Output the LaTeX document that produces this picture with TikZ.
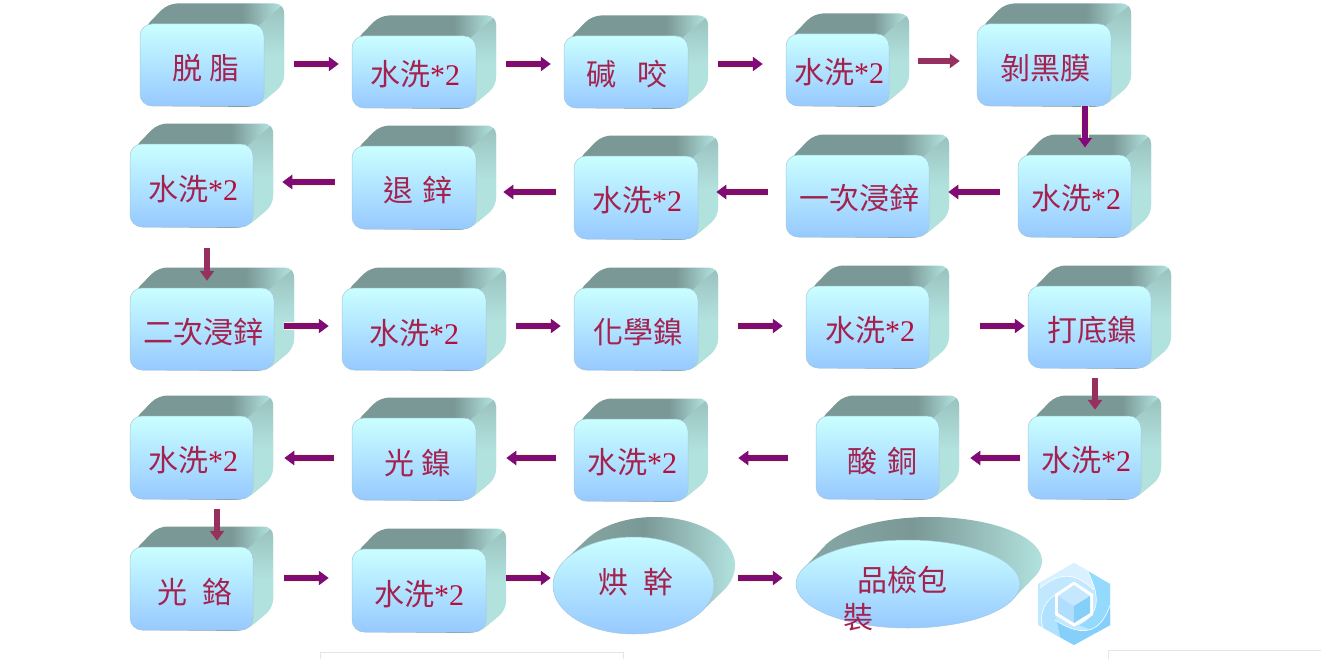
\documentclass[tikz,border=0pt]{standalone}
\usepackage{fontspec}
\setmainfont{Liberation Serif}
\newfontfamily\cjk{Noto Sans CJK TC}
\usetikzlibrary{arrows.meta,shapes.geometric}

\definecolor{sidedark}{HTML}{7A9896}
\definecolor{sidelight}{HTML}{B2E2DE}
\definecolor{frontup}{HTML}{CAFFFF}
\definecolor{frontdown}{HTML}{97C9FF}
\definecolor{frontedge}{HTML}{A5C8DC}
\definecolor{labelred}{HTML}{A5224F}
\definecolor{digitred}{HTML}{B5103C}
\definecolor{flowpurple}{HTML}{7F0A78}
\definecolor{flowmaroon}{HTML}{96305F}
\definecolor{flowglow}{HTML}{FFFBC0}

% Left to right shadings of the block sides; a path's box spans 25bp to 75bp.
\pgfdeclarehorizontalshading{boxside}{100bp}{color(0bp)=(sidedark); color(60bp)=(sidedark); color(74bp)=(sidelight); color(100bp)=(sidelight)}
\pgfdeclarehorizontalshading{discside}{100bp}{color(0bp)=(sidedark!70!sidelight); color(32bp)=(sidedark!85!sidelight); color(48bp)=(sidedark); color(75bp)=(sidelight); color(100bp)=(sidelight)}

\tikzset{
  front/.style={draw=frontedge, line width=.5pt, top color=frontup, bottom color=frontdown, inner sep=0pt},
  blockface/.style={front, rectangle, rounded corners=12pt},
  discface/.style={front, ellipse},
  steptext/.style={text=labelred, font=\fontsize{30}{32}\selectfont, inner sep=0pt},
  flow/.style={draw=flowpurple, line width=6.5pt, -{Triangle[width=14pt,length=10pt]},
    preaction={draw=flowglow, line width=8.5pt}},
  flowplain/.style={draw=flowmaroon, line width=6pt, -{Triangle[width=14pt,length=10pt]}},
}

% name, front left, top, right, bottom, text x, text y, text
\newcommand{\procbox}[8]{%
  \begin{scope}
    \path[shading=boxside, rounded corners=9pt]
      (#2+4,#3+4) -- (#2+28,#3-20.5) -- (#4+20,#3-20.5) -- (#4+20,#5-22) -- (#4-8,#5+1) -- (#2+4,#5) -- cycle;
    \begin{scope}
      \clip[rounded corners=9pt]
        (#2+4,#3+4) -- (#2+28,#3-20.5) -- (#4+20,#3-20.5) -- (#4+20,#5-22) -- (#4-8,#5+1) -- (#2+4,#5) -- cycle;
      \path[top color=sidedark!45!sidelight, bottom color=sidelight, middle color=sidelight]
        (#4-8,#3+4) -- (#4+21,#3-21) -- (#4+21,#5) -- (#4-8,#5+3) -- cycle;
    \end{scope}
  \end{scope}
  \node[blockface, minimum width={(#4-#2)*1pt}, minimum height={(#5-#3)*1pt}] (#1) at ({(#2+#4)/2},{(#3+#5)/2}) {};
  \node[steptext] (#1-text) at (#6,#7) {#8};
}
\newcommand{\gapped}[3]{{\cjk #1\hspace{#3pt}#2}}
\newcommand{\rinse}{{\cjk 水洗}\textcolor{digitred}{*2}}

\begin{document}
\begin{tikzpicture}[x=1pt,y=-1pt]
\useasboundingbox (0,0) rectangle (1321,658);
\fill[white] (0,0) rectangle (1321,658);

% Faint frames along the lower edge
\draw[black!10, line width=.8pt] (320.5,659) |- (623.5,652.5) -- (623.5,659);
\draw[black!10, line width=.8pt] (1108,659) |- (1322,650.5);

% First row
\procbox{a1}{140}{24}{264}{106}{206}{68}{\gapped{脱}{脂}{8}}
\procbox{a2}{352}{36}{476}{108}{415}{74}{\rinse}
\procbox{a3}{564}{36}{688}{108}{627}{74}{\gapped{碱}{咬}{22}}
\procbox{a4}{786}{34}{889}{106}{839}{72}{\rinse}
\procbox{a5}{977}{24}{1111}{106}{1045}{68}{{\cjk 剝黑膜}}

% Second row
\procbox{b1}{130}{144}{253}{227}{193}{189}{\rinse}
\procbox{b2}{352}{146}{476}{229}{418}{190}{\gapped{退}{鋅}{10}}
\procbox{b3}{574}{156}{698}{239}{637}{200}{\rinse}
\procbox{b4}{786}{155}{929}{237}{859}{198}{{\cjk 一次浸鋅}}
\procbox{b5}{1018}{155}{1131}{237}{1076}{198}{\rinse}

% Third row
\procbox{c1}{130}{288}{274}{370}{203}{332}{{\cjk 二次浸鋅}}
\procbox{c2}{342}{288}{486}{370}{414}{333}{\rinse}
\procbox{c3}{574}{288}{698}{370}{638}{332}{{\cjk 化學鎳}}
\procbox{c4}{806}{286}{929}{368}{870}{330}{\rinse}
\procbox{c5}{1028}{286}{1151}{368}{1092}{330}{{\cjk 打底鎳}}

% Fourth row
\procbox{d1}{130}{416}{253}{499}{193}{460}{\rinse}
\procbox{d2}{352}{418}{476}{500}{418}{463}{\gapped{光}{鎳}{8}}
\procbox{d3}{574}{419}{688}{501}{632}{462}{\rinse}
\procbox{d4}{816}{416}{939}{499}{882}{461}{\gapped{酸}{銅}{10}}
\procbox{d5}{1028}{416}{1141}{499}{1086}{460}{\rinse}

% Fifth row
\procbox{e1}{130}{547}{253}{630}{195}{592}{\gapped{光}{鉻}{15}}
\procbox{e2}{352}{549}{486}{632}{419}{594}{\rinse}

% Drying disc: back outline between the two tangent points, then the face
\path[shading=discside] plot[domain=31:-149, samples=90, smooth] ({633.5+21+80.5*cos(\x)},{585.5-20+48.5*sin(\x)}) -- ({633.5-69},{585.5-25}) -- ({633.5+69},{585.5+25}) -- cycle;
\node[discface, minimum width=161pt, minimum height=97pt] (e3) at (633.5,585.5) {};
\node[steptext] (e3-text) at (636,582) {\gapped{烘}{幹}{15}};

% Inspection and packing disc
\path[shading=discside] plot[domain=21.4:-158.6, samples=90, smooth] ({908+22+112*cos(\x)},{584-23+44*sin(\x)}) -- ({908-104},{584-16}) -- ({908+104},{584+16}) -- cycle;
\node[discface, minimum width=224pt, minimum height=88pt] (e4) at (908,584) {};
\node[steptext] (e4-text) at (902,580) {{\cjk 品檢包}};
\node[steptext] (e4-tail) at (858,617) {{\cjk 裝}};

% Connectors of the process flow
\draw[flow] ([shift={(30,-1)}]a1.east) -- ([shift={(-13,-8)}]a2.west);
\draw[flow] ([shift={(30,-8)}]a2.east) -- ([shift={(-13,-8)}]a3.west);
\draw[flow] ([shift={(30,-8)}]a3.east) -- ([shift={(-23,-6)}]a4.west);
\draw[flowplain] ([shift={(29,-9)}]a4.east) -- ([shift={(-17,-4)}]a5.west);
\draw[flow] ([shift={(41,0)}]a5.south) -- ([shift={(10.5,-7)}]b5.north);
\draw[flow] ([shift={(-18,-4)}]b5.west) -- ([shift={(19,-4)}]b4.east);
\draw[flow] ([shift={(-18,-4)}]b4.west) -- ([shift={(18,-5.5)}]b3.east);
\draw[flow] ([shift={(-18,-5.5)}]b3.west) -- ([shift={(27,4.5)}]b2.east);
\draw[flow] ([shift={(-17,-5.5)}]b2.west) -- ([shift={(29,-3.5)}]b1.east);
\draw[flowplain] ([shift={(15.5,21)}]b1.south) -- ([shift={(5,-7)}]c1.north);
\draw[flow] ([shift={(10,-3)}]c1.east) -- ([shift={(-13,-3)}]c2.west);
\draw[flow] ([shift={(30,-3)}]c2.east) -- ([shift={(-13,-3)}]c3.west);
\draw[flow] ([shift={(40,-3)}]c3.east) -- ([shift={(-23,-1)}]c4.west);
\draw[flow] ([shift={(51,-1)}]c4.east) -- ([shift={(-3,-1)}]c5.west);
\draw[flowplain] ([shift={(5.5,10)}]c5.south) -- ([shift={(10.5,-6)}]d5.north);
\draw[flow] ([shift={(-8,.5)}]d5.west) -- ([shift={(31,.5)}]d4.east);
\draw[flow] ([shift={(-28,.5)}]d4.west) -- ([shift={(50,-2)}]d3.east);
\draw[flow] ([shift={(-18,-2)}]d3.west) -- ([shift={(30,-1)}]d2.east);
\draw[flow] ([shift={(-18,-1)}]d2.west) -- ([shift={(31,.5)}]d1.east);
\draw[flowplain] ([shift={(25.5,10)}]d1.south) -- ([shift={(25.5,-6)}]e1.north);
\draw[flow] ([shift={(31,-10.5)}]e1.east) -- ([shift={(-23,-12.5)}]e2.west);
\draw[flow] ([shift={(20,-12.5)}]e2.east) -- ([shift={(-2,-7.5)}]e3.west);
\draw[flow] ([shift={(24,-7.5)}]e3.east) -- ([shift={(-13,-6)}]e4.west);

% Hexagonal cube emblem
\begin{scope}
  \clip (1074,563) -- (1110,584) -- (1110,625) -- (1074,645) -- (1038,625) -- (1038,584) -- cycle;
  \fill[color={rgb,255:red,194;green,232;blue,255}] (1030,555) rectangle (1118,650);
  \fill[color={rgb,255:red,216;green,240;blue,255}] (1040,588) .. controls (1060,572) and (1075,572) .. (1094,590) -- (1118,555) -- (1040,555) -- cycle;
  \fill[color={rgb,255:red,148;green,218;blue,255}] (1088,572) .. controls (1102,600) and (1098,615) .. (1078,625) -- (1118,640) -- (1118,560) -- cycle;
  \fill[color={rgb,255:red,132;green,208;blue,250}] (1110,605) .. controls (1102,630) and (1085,640) .. (1055,620) -- (1060,650) -- (1118,650) -- cycle;
  \fill[color={rgb,255:red,176;green,226;blue,255}] (1055,595) .. controls (1040,605) and (1038,620) .. (1047,640) -- (1062,645) -- (1056,618) -- cycle;
  \draw[white, line width=.6pt] (1040,588) .. controls (1060,572) and (1075,572) .. (1094,590);
  \draw[white, line width=.6pt] (1088,572) .. controls (1102,600) and (1098,615) .. (1078,625);
  \draw[white, line width=.6pt] (1110,605) .. controls (1102,630) and (1085,640) .. (1055,620);
  \draw[white, line width=.6pt] (1055,595) .. controls (1040,605) and (1038,620) .. (1047,640);
\end{scope}
\fill[white] (1074,581.5) -- (1093,594) -- (1093,615) -- (1074,626.5) -- (1055,615) -- (1055,594) -- cycle;
\fill[color={rgb,255:red,198;green,232;blue,255}] (1074,585) -- (1090,596) -- (1074,606) -- (1058,596) -- cycle;
\fill[color={rgb,255:red,176;green,222;blue,255}] (1058,596) -- (1074,606) -- (1074,623) -- (1058,613) -- cycle;
\fill[color={rgb,255:red,133;green,208;blue,248}] (1090,596) -- (1074,606) -- (1074,623) -- (1090,613) -- cycle;
\end{tikzpicture}
\end{document}
